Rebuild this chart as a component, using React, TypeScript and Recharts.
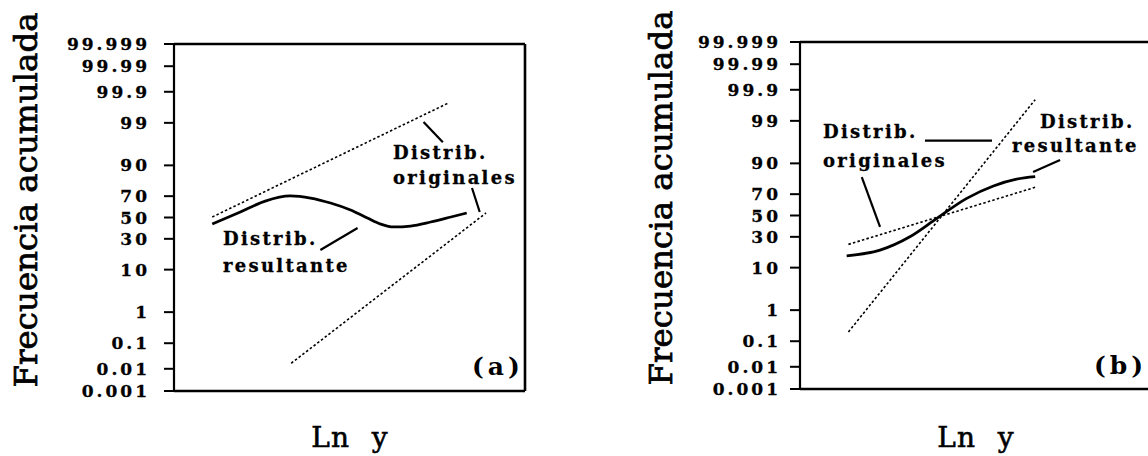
import React from 'react';
import { LineChart, Line, XAxis, YAxis, ReferenceLine } from 'recharts';

// ---- axis ticks (cumulative frequency, %) ----
const yTickPercents = [0.001, 0.01, 0.1, 1, 10, 30, 50, 70, 90, 99, 99.9, 99.99, 99.999];
const yTickLabels = ['0.001', '0.01', '0.1', '1', '10', '30', '50', '70', '90', '99', '99.9', '99.99', '99.999'];

// ---- panel (a) ----
const aResultX = [10.9, 18.9, 26.0, 33.1, 38.9, 44.6, 50.3, 55.1, 58.9, 62.6, 67.4, 73.1, 78.9, 83.4];
const aResultP = [43.6, 55.4, 65.7, 70.2, 68.4, 63.9, 57.3, 49.5, 43.6, 40.8, 41.7, 45.6, 50.5, 54.4];
const aUpperX = [10.9, 78.0];
const aUpperP = [50.5, 99.75];
const aLowerX = [33.4, 88.9];
const aLowerP = [0.017, 54.4];
// pointer lines [x1, p1, x2, p2]
const aPointers = [
  [71.1, 99.06, 76.6, 96.8],
  [84.9, 76.6, 87.1, 55.4],
  [41.7, 21.2, 52.3, 39.8],
];

// ---- panel (b) ----
const bResultX = [13.3, 22.8, 31.3, 39.0, 47.5, 55.1, 61.7, 67.0];
const bResultP = [16.1, 19.7, 30.0, 47.2, 66.3, 76.6, 81.4, 83.0];
const bSteepX = [13.8, 67.0];
const bSteepP = [0.21, 99.78];
const bShallowX = [13.8, 67.0];
const bShallowP = [23.9, 75.6];
const bPointers = [
  [35.6, 96.7, 54.7, 96.7],
  [17.6, 82.7, 22.8, 39.1],
  [74.1, 91.4, 66.4, 85.8],
];

// inverse normal CDF (Acklam)
function probit(p: number): number {
  const a = [-3.969683028665376e1, 2.209460984245205e2, -2.759285104469687e2, 1.38357751867269e2, -3.066479806614716e1, 2.506628277459239];
  const b = [-5.447609879822406e1, 1.615858368580409e2, -1.556989798598866e2, 6.680131188771972e1, -1.328068155288572e1];
  const c = [-7.784894002430293e-3, -3.223964580411365e-1, -2.400758277161838, -2.549732539343734, 4.374664141464968, 2.938163982698783];
  const d = [7.784695709041462e-3, 3.224671290700398e-1, 2.445134137142996, 3.754408661907416];
  const pl = 0.02425;
  if (p < pl) {
    const q = Math.sqrt(-2 * Math.log(p));
    return (((((c[0] * q + c[1]) * q + c[2]) * q + c[3]) * q + c[4]) * q + c[5]) / ((((d[0] * q + d[1]) * q + d[2]) * q + d[3]) * q + 1);
  }
  if (p <= 1 - pl) {
    const q = p - 0.5;
    const r = q * q;
    return ((((((a[0] * r + a[1]) * r + a[2]) * r + a[3]) * r + a[4]) * r + a[5]) * q) / (((((b[0] * r + b[1]) * r + b[2]) * r + b[3]) * r + b[4]) * r + 1);
  }
  const q = Math.sqrt(-2 * Math.log(1 - p));
  return -(((((c[0] * q + c[1]) * q + c[2]) * q + c[3]) * q + c[4]) * q + c[5]) / ((((d[0] * q + d[1]) * q + d[2]) * q + d[3]) * q + 1);
}
const z = (pct: number) => probit(pct / 100);

const tickZ = yTickPercents.map(z);
const zMin = tickZ[0];
const zMax = tickZ[tickZ.length - 1];

const build = (xs: number[], ps: number[]) => xs.map((x, i) => ({ x, z: z(ps[i]) }));

const SERIF = '"DejaVu Serif", serif';
const dotted = { stroke: '#000', strokeWidth: 1.6, strokeDasharray: '2.5 2.2' };

interface PanelProps {
  left: number;
  top: number;
  bottom: number;
  titleX: number;
  titleY: number;
  tickMargin: number;
  result: { x: number; z: number }[];
  dashA: { x: number; z: number }[];
  dashB: { x: number; z: number }[];
  pointers: number[][];
  rightBorder: boolean;
}

function Panel(props: PanelProps) {
  const { left, top, bottom, titleX, titleY, tickMargin, result, dashA, dashB, pointers, rightBorder } = props;
  const W = 560;
  const H = 456;
  const renderTick = (tp: any) => {
    const v = tp.payload?.value;
    let idx = tickZ.findIndex((t) => Math.abs(t - v) < 1e-6);
    if (idx < 0) idx = tp.index;
    return (
      <text x={tp.x} y={tp.y} dy="0.36em" textAnchor="end" fontFamily={SERIF} fontWeight="bold" fontSize={17} letterSpacing={3} fill="#000" stroke="#000" strokeWidth={0.3}>
        {yTickLabels[idx]}
      </text>
    );
  };
  return (
    <div style={{ position: 'absolute', left, top: 0, width: W, height: H }}>
      <LineChart width={W} height={H} margin={{ top, right: 35, bottom: 0, left: 0 }}>
        <XAxis
          dataKey="x"
          type="number"
          domain={[0, 100]}
          allowDataOverflow
          height={H - bottom}
          axisLine={false}
          tick={false}
          tickLine={false}
          label={() => (
            <text x={174 + 176} y={447} textAnchor="middle" fontFamily={SERIF} fontSize={28} letterSpacing={1} wordSpacing={12} fill="#000" stroke="#000" strokeWidth={0.6}>
              Ln y
            </text>
          )}
        />
        <YAxis
          type="number"
          domain={[zMin, zMax]}
          allowDataOverflow
          ticks={tickZ}
          interval={0}
          width={174}
          tickSize={10}
          tickMargin={tickMargin}
          axisLine={{ stroke: '#000', strokeWidth: 2.2 }}
          tickLine={{ stroke: '#000', strokeWidth: 2 }}
          tick={renderTick}
          label={() => (
            <text
              x={titleX}
              y={titleY}
              transform={`rotate(-90 ${titleX} ${titleY})`}
              textAnchor="middle"
              fontFamily={SERIF}
              fontSize={32.5}
              fill="#000"
              stroke="#000"
              strokeWidth={0.7}
            >
              Frecuencia acumulada
            </text>
          )}
        />
        <ReferenceLine y={zMax} stroke="#000" strokeWidth={2.6} ifOverflow="visible" />
        <ReferenceLine y={zMin} stroke="#000" strokeWidth={2.6} ifOverflow="visible" />
        {rightBorder && <ReferenceLine x={100} stroke="#000" strokeWidth={2.6} ifOverflow="visible" />}
        {pointers.map((p, i) => (
          <ReferenceLine
            key={i}
            segment={[
              { x: p[0], y: z(p[1]) },
              { x: p[2], y: z(p[3]) },
            ]}
            stroke="#000"
            strokeWidth={2.2}
            ifOverflow="visible"
          />
        ))}
        <Line data={dashA} dataKey="z" type="linear" dot={false} isAnimationActive={false} {...dotted} />
        <Line data={dashB} dataKey="z" type="linear" dot={false} isAnimationActive={false} {...dotted} />
        <Line data={result} dataKey="z" type="monotone" dot={false} isAnimationActive={false} stroke="#000" strokeWidth={2.8} />
      </LineChart>
    </div>
  );
}

const annStyle = { fontFamily: SERIF, fontWeight: 'bold' as const, fontSize: 18, letterSpacing: 2.3, fill: '#000', stroke: '#000', strokeWidth: 0.3 };
const panelTagStyle = { fontFamily: SERIF, fontWeight: 'bold' as const, fontSize: 25, letterSpacing: 4, fill: '#000' };

export default function App() {
  return (
    <div style={{ position: 'absolute', left: 0, top: 0, width: 1148, height: 456, overflow: 'hidden', background: '#fff' }}>
      <Panel
        left={0}
        top={44}
        bottom={391}
        titleX={37}
        titleY={200}
        tickMargin={14}
        result={build(aResultX, aResultP)}
        dashA={build(aUpperX, aUpperP)}
        dashB={build(aLowerX, aLowerP)}
        pointers={aPointers}
        rightBorder
      />
      <Panel
        left={626}
        top={42}
        bottom={389}
        titleX={46}
        titleY={198}
        tickMargin={9}
        result={build(bResultX, bResultP)}
        dashA={build(bSteepX, bSteepP)}
        dashB={build(bShallowX, bShallowP)}
        pointers={bPointers}
        rightBorder={false}
      />
      <svg width={1148} height={456} style={{ position: 'absolute', left: 0, top: 0, pointerEvents: 'none' }}>
        <text x={393} y={159} {...annStyle}>Distrib.</text>
        <text x={393} y={184} {...annStyle}>originales</text>
        <text x={223} y={245} {...annStyle}>Distrib.</text>
        <text x={223} y={272} {...annStyle}>resultante</text>
        <text x={472} y={375} {...panelTagStyle}>(a)</text>
        <text x={823} y={138} {...annStyle}>Distrib.</text>
        <text x={823} y={167} {...annStyle}>originales</text>
        <text x={1040} y={128} {...annStyle}>Distrib.</text>
        <text x={1012} y={152} {...annStyle}>resultante</text>
        <text x={1094} y={374} {...panelTagStyle}>(b)</text>
      </svg>
    </div>
  );
}
